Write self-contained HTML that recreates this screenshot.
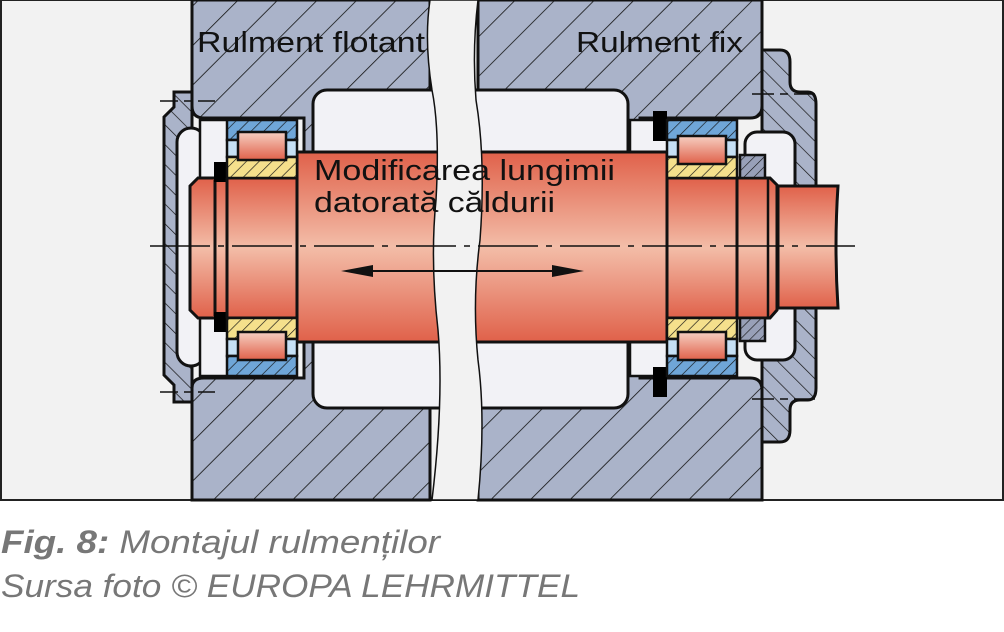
<!DOCTYPE html>
<html><head><meta charset="utf-8"><style>
html,body{margin:0;padding:0;background:#fff;}
body{width:1004px;height:632px;overflow:hidden;position:relative;font-family:"Liberation Sans",sans-serif;}
</style></head><body>
<svg width="1004" height="632" viewBox="0 0 1004 632" style="position:absolute;left:0;top:0">
<defs>
<pattern id="h" width="28" height="28" patternUnits="userSpaceOnUse" patternTransform="rotate(45)">
<rect width="28" height="28" fill="#aab3c9"/><line x1="0" y1="0" x2="0" y2="28" stroke="#111" stroke-width="1.6"/></pattern>
<pattern id="h2" width="14" height="14" patternUnits="userSpaceOnUse" patternTransform="rotate(-45)">
<rect width="14" height="14" fill="#aab3c9"/><line x1="0" y1="0" x2="0" y2="14" stroke="#111" stroke-width="1.4"/></pattern>
<pattern id="hb" width="9" height="9" patternUnits="userSpaceOnUse" patternTransform="rotate(45)">
<rect width="9" height="9" fill="#6fa6d8"/><line x1="0" y1="0" x2="0" y2="9" stroke="#111" stroke-width="1.3"/></pattern>
<pattern id="hy" width="9" height="9" patternUnits="userSpaceOnUse" patternTransform="rotate(45)">
<rect width="9" height="9" fill="#f5e08c"/><line x1="0" y1="0" x2="0" y2="9" stroke="#111" stroke-width="1.3"/></pattern>
<pattern id="hg" width="7" height="7" patternUnits="userSpaceOnUse" patternTransform="rotate(45)">
<rect width="7" height="7" fill="#98a0b8"/><line x1="0" y1="0" x2="0" y2="7" stroke="#111" stroke-width="1.2"/></pattern>
<linearGradient id="s" x1="0" y1="0" x2="0" y2="1">
<stop offset="0" stop-color="#e0614a"/><stop offset="0.5" stop-color="#f3bda8"/><stop offset="1" stop-color="#e0614a"/></linearGradient>
<linearGradient id="r" x1="0" y1="0" x2="0" y2="1">
<stop offset="0" stop-color="#f6cfc2"/><stop offset="1" stop-color="#e0614a"/></linearGradient>
</defs>
<rect x="0" y="0" width="1004" height="500" fill="#f2f2f2"/>
<rect x="1" y="0" width="1002" height="500" fill="none" stroke="#222" stroke-width="2"/>
<path d="M174 92 H192 V402 H174 V385 L164 375 V117 L174 107 Z" fill="url(#h2)" stroke="#111" stroke-width="3"/>
<rect x="177" y="128" width="28" height="238" rx="14" fill="#f2f2f6" stroke="#111" stroke-width="3"/>
<path d="M762 50 H780 Q790 50 790 62 V82 Q790 92 800 92 H808 Q816 92 816 104 V388 Q816 400 808 400 H800 Q790 400 790 410 V430 Q790 442 780 442 H762 Z" fill="url(#h2)" stroke="#111" stroke-width="3"/>
<rect x="745" y="132" width="50" height="228" rx="12" fill="#f2f2f6" stroke="#111" stroke-width="3"/>
<path d="M192 0 H430 V500 H192 V388 Q192 378 204 378 H304 V118 H204 Q192 118 192 106 Z" fill="url(#h)" stroke="#111" stroke-width="3"/>
<path d="M478 0 H762 V106 Q762 118 750 118 H640 V378 H750 Q762 378 762 390 V500 H478 Z" fill="url(#h)" stroke="#111" stroke-width="3"/>
<rect x="313" y="90" width="140" height="318" rx="14" fill="#f2f2f6" stroke="#111" stroke-width="3"/>
<rect x="460" y="90" width="168" height="318" rx="14" fill="#f2f2f6" stroke="#111" stroke-width="3"/>
<rect x="200" y="120" width="30" height="256" fill="#f2f2f6" stroke="#111" stroke-width="2.5"/>
<rect x="630" y="120" width="40" height="256" fill="#f2f2f6" stroke="#111" stroke-width="2.5"/>
<rect x="297" y="152" width="150" height="190" fill="url(#s)" stroke="#111" stroke-width="3"/>
<rect x="470" y="152" width="197" height="190" fill="url(#s)" stroke="#111" stroke-width="3"/>
<path d="M198 178 H297 V318 H198 L190 310 V186 Z" fill="url(#s)" stroke="#111" stroke-width="3"/>
<line x1="215" y1="180" x2="215" y2="316" stroke="#111" stroke-width="3"/>
<rect x="214" y="162" width="12" height="20" fill="#000"/><rect x="214" y="312" width="12" height="20" fill="#000"/>
<line x1="227" y1="178" x2="227" y2="318" stroke="#111" stroke-width="3"/>
<rect x="667" y="178" width="70" height="140" fill="url(#s)" stroke="#111" stroke-width="3"/>
<path d="M737 178 H770 L777 185 V310 L770 318 H737 Z" fill="url(#s)" stroke="#111" stroke-width="3"/>
<line x1="768" y1="178" x2="768" y2="318" stroke="#111" stroke-width="2.5"/>
<path d="M778 186 H838 Q834 246 838 308 H778 Z" fill="url(#s)" stroke="#111" stroke-width="3"/>
<path d="M740 155 H765 V178 H740 Z" fill="url(#hg)" stroke="#111" stroke-width="2.5"/>
<path d="M740 318 H765 V341 H740 Z" fill="url(#hg)" stroke="#111" stroke-width="2.5"/>
<rect x="653" y="111" width="14" height="30" fill="#000"/><rect x="653" y="367" width="14" height="30" fill="#000"/>
<g stroke="#111" stroke-width="2.5">
<rect x="227" y="120" width="70" height="20" fill="url(#hb)"/>
<rect x="227" y="140" width="70" height="17" fill="#c6e0f5"/>
<rect x="227" y="157" width="70" height="21" fill="url(#hy)"/>
<rect x="238" y="132" width="48" height="28" fill="url(#r)"/>
<rect x="227" y="318" width="70" height="21" fill="url(#hy)"/>
<rect x="227" y="339" width="70" height="17" fill="#c6e0f5"/>
<rect x="227" y="356" width="70" height="20" fill="url(#hb)"/>
<rect x="238" y="332" width="48" height="28" fill="url(#r)"/>
<rect x="667" y="120" width="70" height="20" fill="url(#hb)"/>
<rect x="667" y="140" width="70" height="17" fill="#c6e0f5"/>
<rect x="667" y="157" width="70" height="21" fill="url(#hy)"/>
<rect x="678" y="136" width="48" height="28" fill="url(#r)"/>
<rect x="667" y="318" width="70" height="21" fill="url(#hy)"/>
<rect x="667" y="339" width="70" height="17" fill="#c6e0f5"/>
<rect x="667" y="356" width="70" height="20" fill="url(#hb)"/>
<rect x="678" y="332" width="48" height="28" fill="url(#r)"/>
</g>
<path d="M430 0 Q424 40 432 90 Q440 130 436 200 Q430 260 438 330 Q444 400 432 500 H478 Q486 420 478 360 Q472 300 480 240 Q486 160 476 100 Q472 50 478 0 Z" fill="#f2f2f2" stroke="#111" stroke-width="1.5"/>
<line x1="150" y1="246" x2="855" y2="246" stroke="#111" stroke-width="1.5" stroke-dasharray="60 8 6 8"/>
<line x1="160" y1="101" x2="215" y2="101" stroke="#111" stroke-width="1.5" stroke-dasharray="18 6 8 6"/>
<line x1="160" y1="392" x2="215" y2="392" stroke="#111" stroke-width="1.5" stroke-dasharray="18 6 8 6"/>
<line x1="752" y1="94" x2="815" y2="94" stroke="#111" stroke-width="1.5" stroke-dasharray="22 6 8 6"/>
<line x1="752" y1="399" x2="815" y2="399" stroke="#111" stroke-width="1.5" stroke-dasharray="22 6 8 6"/>
<line x1="360" y1="271" x2="565" y2="271" stroke="#111" stroke-width="2"/>
<path d="M341 271 L373 265 V277 Z" fill="#111"/><path d="M584 271 L552 265 V277 Z" fill="#111"/>
<g font-family="Liberation Sans, sans-serif" font-size="29" fill="#111">
<text x="197" y="52" textLength="228" lengthAdjust="spacingAndGlyphs">Rulment flotant</text>
<text x="576" y="52" textLength="167" lengthAdjust="spacingAndGlyphs">Rulment fix</text>
<text x="314" y="180" textLength="301" lengthAdjust="spacingAndGlyphs">Modificarea lungimii</text>
<text x="314" y="212" textLength="241" lengthAdjust="spacingAndGlyphs">datorată căldurii</text>
</g>
<g font-family="Liberation Sans, sans-serif" font-size="32" fill="#777" font-style="italic">
<text x="1" y="553" textLength="439" lengthAdjust="spacingAndGlyphs"><tspan font-weight="bold">Fig. 8:</tspan> Montajul rulmenților</text>
<text x="1" y="597" textLength="579" lengthAdjust="spacingAndGlyphs">Sursa foto © EUROPA LEHRMITTEL</text>
</g>
</svg>
</body></html>
